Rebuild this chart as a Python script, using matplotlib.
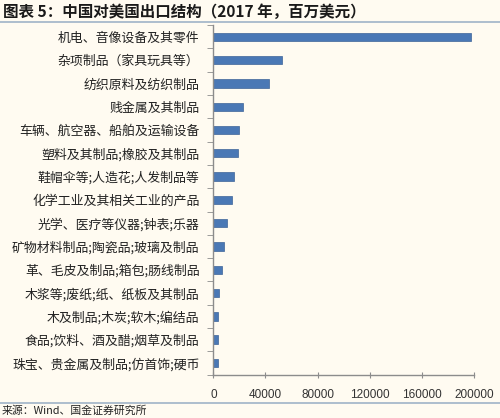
import numpy as np
from matplotlib import pyplot as plt

plt.rcParams['font.family'] = ['Noto Sans CJK SC', 'DejaVu Sans']

# 数据（2017年，百万美元）
kategorie = ['机电、音像设备及其零件', '杂项制品（家具玩具等）', '纺织原料及纺织制品',
             '贱金属及其制品', '车辆、航空器、船舶及运输设备', '塑料及其制品;橡胶及其制品',
             '鞋帽伞等;人造花;人发制品等', '化学工业及其相关工业的产品', '光学、医疗等仪器;钟表;乐器',
             '矿物材料制品;陶瓷品;玻璃及制品', '革、毛皮及制品;箱包;肠线制品',
             '木浆等;废纸;纸、纸板及其制品', '木及制品;木炭;软木;编结品',
             '食品;饮料、酒及醋;烟草及制品', '珠宝、贵金属及制品;仿首饰;硬币']
wartosci = [198000, 52300, 42600, 23100, 19800, 19000, 16200, 14100,
            10800, 8200, 6900, 4400, 3800, 3800, 3300]
xticks = [0, 40000, 80000, 120000, 160000, 200000]

tlo = '#fffbf1'
fig = plt.figure(figsize=(5.0, 4.18), dpi=100, facecolor=tlo)
ax = fig.add_axes([0.4267, 0.1038, 0.5214, 0.836], facecolor=tlo)

y = np.arange(len(kategorie))
ax.barh(y, wartosci, height=0.36, color='#4a78b5', edgecolor='#3d6398', linewidth=0.5)
ax.set_ylim(len(kategorie) - 0.5, -0.5)
ax.set_xlim(0, 200000)

# etykiety kategorii i znaczniki między słupkami
ax.set_yticks(y)
ax.set_yticklabels(kategorie, fontsize=9.3, color='#222222')
ax.set_yticks(np.arange(len(kategorie) + 1) - 0.5, minor=True)
ax.tick_params(axis='y', which='major', length=0, pad=10)
ax.tick_params(axis='y', which='minor', length=4, color='#8c8c8c', direction='out')

ax.set_xticks(xticks)
ax.set_xticklabels([str(v) for v in xticks], fontsize=8.5, color='#333333',
                   family=['Liberation Sans', 'DejaVu Sans'])
ax.tick_params(axis='x', length=4, color='#8c8c8c', direction='inout', pad=8)

for s in ['top', 'right']:
    ax.spines[s].set_visible(False)
for s in ['left', 'bottom']:
    ax.spines[s].set_color('#8c8c8c')
    ax.spines[s].set_linewidth(1.0)

# tytuł, linie i źródło
fig.text(0.006, 0.972, '图表 5：中国对美国出口结构（2017 年，百万美元）', fontsize=11.2,
         fontweight='bold', style='italic', color='#1a1a1a', va='center', ha='left')
fig.add_artist(plt.Line2D([0, 1], [0.948, 0.948], color='#9fb3c8', linewidth=1.2))
fig.add_artist(plt.Line2D([0, 1], [0.036, 0.036], color='#9fb3c8', linewidth=1.2))
fig.text(0.004, 0.017, '来源：Wind、国金证券研究所', fontsize=7.8, color='#222222',
         va='center', ha='left')

plt.savefig('out.png', dpi=100, facecolor=tlo)
